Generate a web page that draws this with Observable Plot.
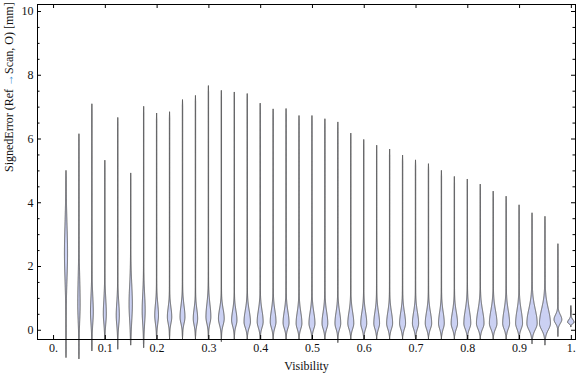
<!DOCTYPE html>
<html><head><meta charset="utf-8">
<script src="https://cdn.jsdelivr.net/npm/d3@7"></script>
<script src="https://cdn.jsdelivr.net/npm/@observablehq/plot@0.6"></script>
<style>body{margin:0;background:#fff;} svg{overflow:visible}</style>
</head><body><div id="chart"></div>
<script>
// ---- data ----
const visibility = [0.025,0.05,0.075,0.1,0.125,0.15,0.175,0.2,0.225,0.25,0.275,0.3,0.325,0.35,0.375,0.4,0.425,0.45,0.475,0.5,0.525,0.55,0.575,0.6,0.625,0.65,0.675,0.7,0.725,0.75,0.775,0.8,0.825,0.85,0.875,0.9,0.925,0.95,0.975,1.0];
const maxErr = [5.00,6.15,7.09,5.32,6.66,4.92,7.01,6.80,6.84,7.22,7.35,7.66,7.51,7.46,7.41,7.11,6.93,6.94,6.72,6.72,6.62,6.52,6.17,5.97,5.79,5.67,5.48,5.33,5.21,5.00,4.81,4.73,4.57,4.35,4.19,3.92,3.67,3.56,2.70,0.76];
const minErr = [-0.86,-0.90,-0.65,-0.28,-0.60,-0.47,-0.55,-0.28,-0.28,-0.28,-0.28,-0.30,-0.36,-0.28,-0.28,-0.28,-0.28,-0.28,-0.28,-0.28,-0.28,-0.39,-0.28,-0.28,-0.28,-0.28,-0.28,-0.28,-0.28,-0.28,-0.28,-0.28,-0.28,-0.28,-0.28,-0.28,-0.43,-0.47,-0.20,0.10];
const modeErr = [2.4,0.8,0.55,0.5,0.45,0.8,0.6,0.45,0.4,0.4,0.35,0.4,0.35,0.3,0.25,0.25,0.25,0.22,0.2,0.2,0.2,0.2,0.2,0.2,0.2,0.2,0.2,0.2,0.2,0.2,0.2,0.2,0.2,0.2,0.2,0.2,0.2,0.2,0.32,0.24];
// relative peak density (1 = widest violin)
const peakDensity = [0.26,0.19,0.23,0.25,0.26,0.28,0.25,0.32,0.38,0.43,0.38,0.43,0.51,0.47,0.57,0.53,0.51,0.53,0.51,0.53,0.51,0.51,0.53,0.53,0.51,0.53,0.53,0.55,0.57,0.51,0.57,0.62,0.68,0.68,0.62,0.62,0.94,1.0,0.70,0.57];
const spreadLow = [0.8,0.5,0.35,0.3,0.3,0.5,0.4,0.25,0.2,0.2,0.2,0.2,0.2,0.18,0.18,0.18,0.18,0.17,0.17,0.17,0.17,0.17,0.17,0.17,0.17,0.17,0.17,0.17,0.17,0.17,0.17,0.17,0.17,0.17,0.17,0.17,0.2,0.2,0.12,0.07];
const spreadHigh = [0.9,0.8,0.5,0.45,0.4,0.6,0.5,0.35,0.3,0.35,0.3,0.4,0.3,0.3,0.35,0.35,0.35,0.35,0.35,0.35,0.35,0.35,0.35,0.35,0.35,0.35,0.35,0.35,0.35,0.35,0.35,0.4,0.4,0.4,0.4,0.4,0.45,0.45,0.15,0.08];
const xTicks = [0,0.1,0.2,0.3,0.4,0.5,0.6,0.7,0.8,0.9,1.0];
const xTickLabels = ["0.","0.1","0.2","0.3","0.4","0.5","0.6","0.7","0.8","0.9","1."];
const yTicks = [0,2,4,6,8,10];
const yTickLabels = ["0","2","4","6","8","10"];
const yLabelParts = ["SignedError (Ref ", "\u2192", "Scan, O) [mm]"];

// ---- layout ----
const W = 576, H = 377, mL = 37, mR = 1, mT = 4, mB = 38;
const plotW = W - mL - mR, plotH = H - mT - mB;
const xDomain = [-0.031, 1.008], yDomain = [-0.29, 10.22];
const maxHalfX = 5.3 * (xDomain[1] - xDomain[0]) / plotW; // widest half-width
const tailDensity = 0.035;

const rows = [];
visibility.forEach((v, i) => {
  const lo = minErr[i], hi = maxErr[i], m = modeErr[i];
  const n = 500;
  for (let j = 0; j <= n; j++) {
    const y = lo + (hi - lo) * j / n;
    const s = y > m ? spreadHigh[i] : spreadLow[i];
    let d = peakDensity[i] * Math.exp(-0.5 * ((y - m) / s) ** 2) + tailDensity;
    const taper = Math.max(0, Math.min(1, (hi - y) / 0.2, (y - lo) / 0.12));
    d *= taper;
    rows.push({k: i, y, x1: v - d * maxHalfX, x2: v + d * maxHalfX});
  }
});

const yMinor = d3.range(0, 10.01, 0.5).filter(t => t % 2 !== 0);

const chart = Plot.plot({
  width: W, height: H,
  marginLeft: mL, marginRight: mR, marginTop: mT, marginBottom: mB,
  style: {fontFamily: "'Liberation Serif', 'Times New Roman', serif", fontSize: "12px", background: "#fff", overflow: "visible"},
  x: {domain: xDomain},
  y: {domain: yDomain},
  marks: [
    Plot.areaX(rows, {y: "y", x1: "x1", x2: "x2", z: "k", fill: "#cbd1f3", stroke: "#4d4d4d", strokeWidth: 1, strokeOpacity: 0.9, curve: "linear"}),
    Plot.frame({stroke: "#000", strokeWidth: 1}),
    Plot.tickY(yTicks, {y: d => d, insetRight: plotW - 4, stroke: "#000"}),
    Plot.tickY(yTicks, {y: d => d, insetLeft: plotW - 4, stroke: "#000"}),
    Plot.tickY(yMinor, {y: d => d, insetRight: plotW - 2.5, stroke: "#000"}),
    Plot.tickY(yMinor, {y: d => d, insetLeft: plotW - 2.5, stroke: "#000"}),
    Plot.tickX(xTicks, {x: d => d, insetTop: plotH - 4, stroke: "#000"}),
    Plot.tickX(xTicks, {x: d => d, insetBottom: plotH - 4, stroke: "#000"}),
    Plot.axisX(xTicks, {tickSize: 0, tickPadding: 4, tickFormat: d => xTickLabels[Math.round(d * 10)], label: null, fontSize: 12, fill: "#111"}),
    Plot.axisY(yTicks, {tickSize: 0, tickPadding: 4, tickFormat: d => yTickLabels[Math.round(d / 2)], label: null, fontSize: 12, fill: "#111"}),
    Plot.text(["Visibility"], {frameAnchor: "bottom", dy: 30, text: d => d, fontSize: 12, fill: "#111"}),
    Plot.text([yLabelParts.join("")], {frameAnchor: "left", dx: -28, rotate: -90, text: d => d, fontSize: 12, fill: "#111", className: "ylab"})
  ]
});
document.getElementById("chart").appendChild(chart);
// colour the arrow in the y label as in the reference
const t = chart.querySelector("g.ylab text");
if (t) {
  t.textContent = "";
  yLabelParts.forEach((p, i) => {
    const ts = document.createElementNS("http://www.w3.org/2000/svg", "tspan");
    ts.textContent = p;
    if (i === 1) ts.setAttribute("fill", "#3d8fd6");
    t.appendChild(ts);
  });
}
</script>
</body></html>
